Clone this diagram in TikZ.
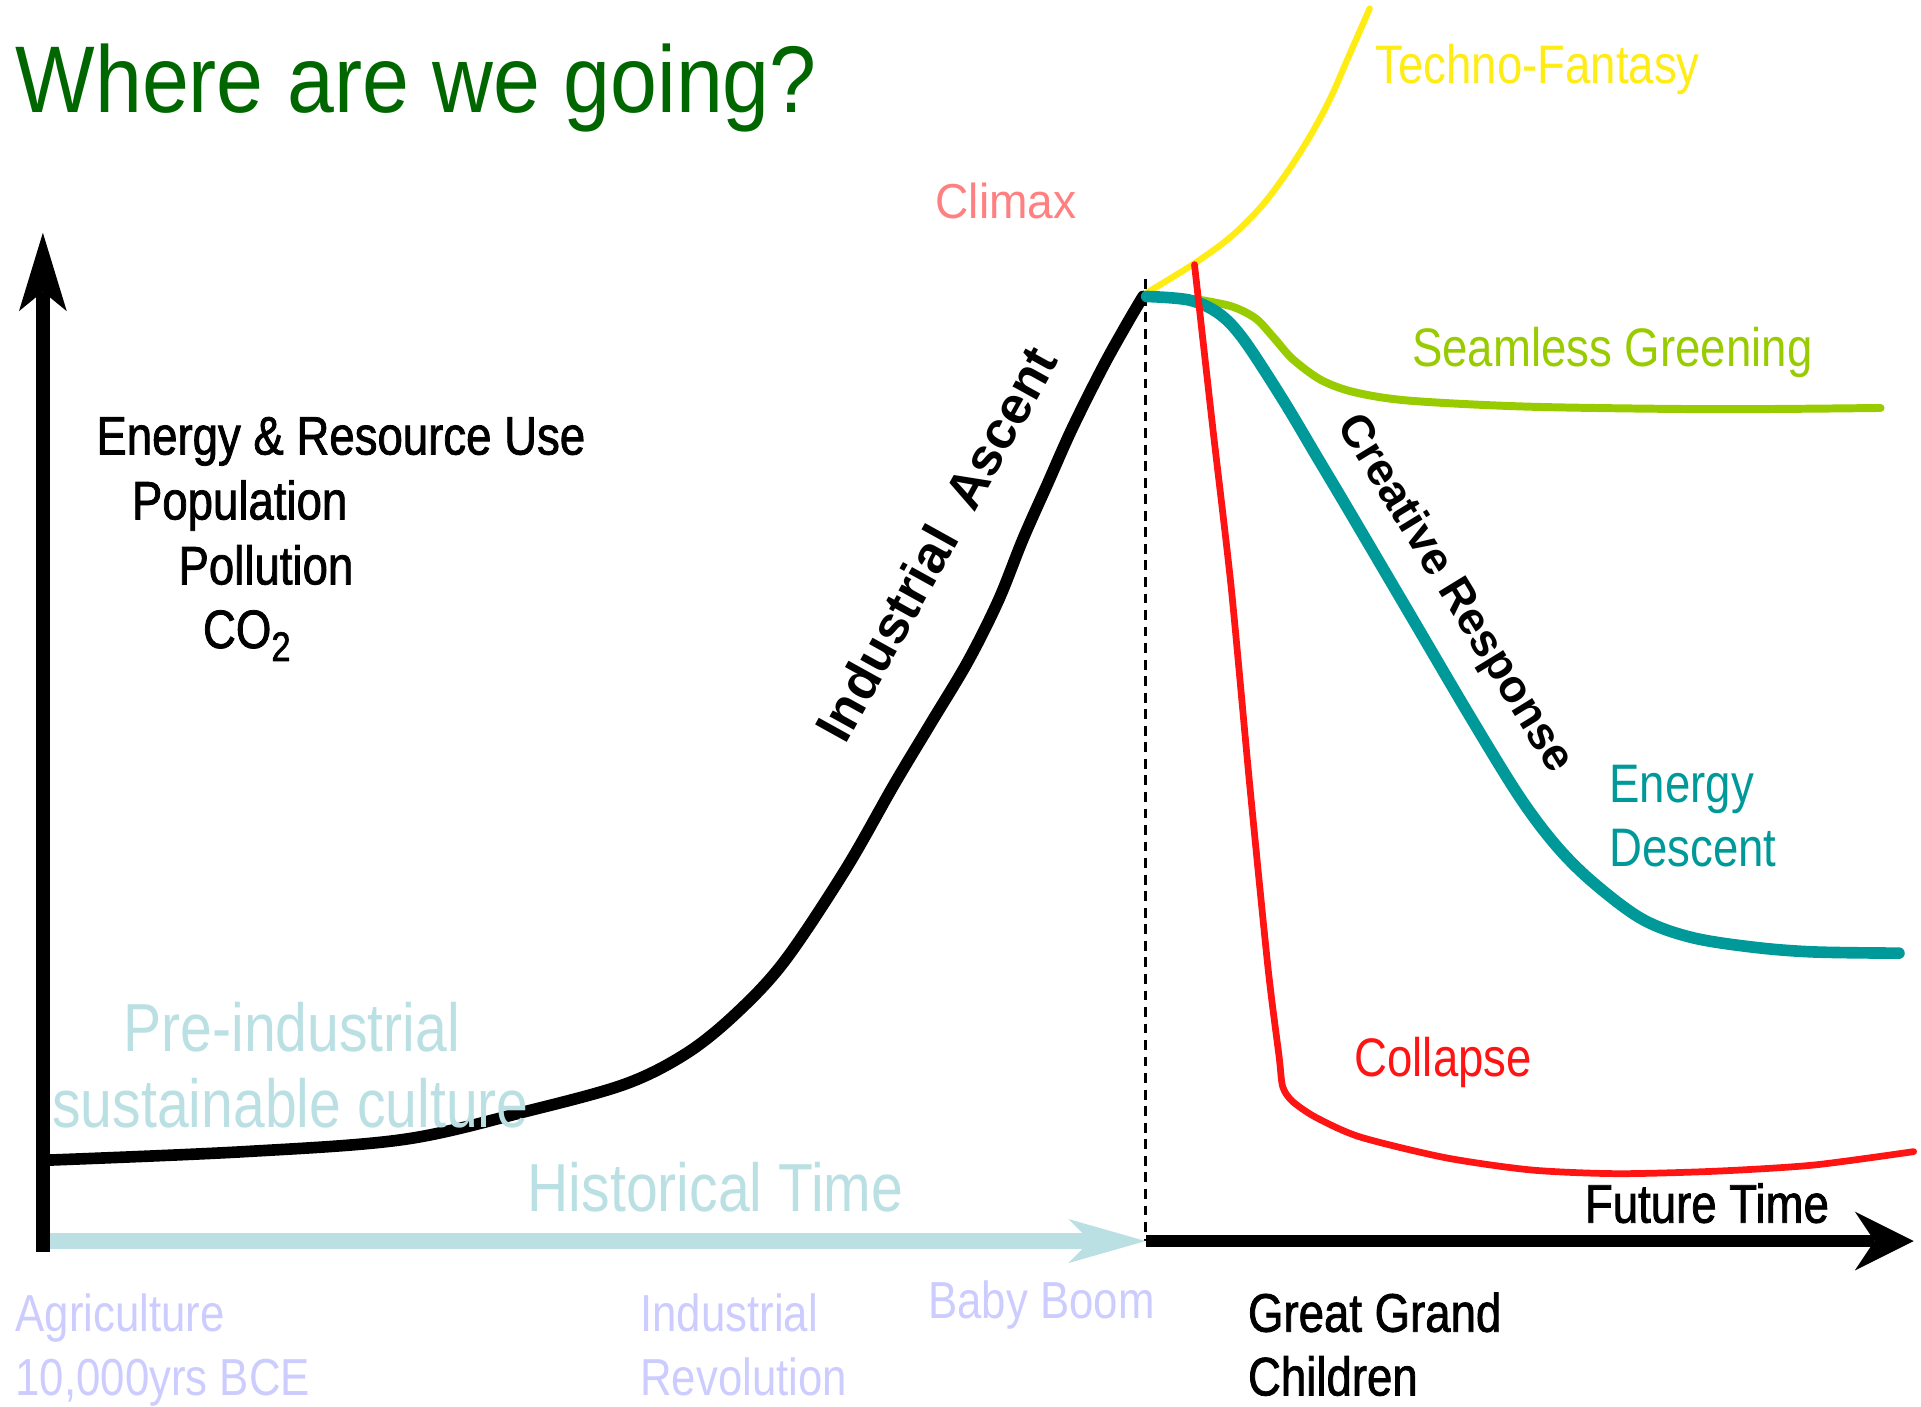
\documentclass[tikz,border=0pt]{standalone}
\usepackage{fontspec}
\setmainfont{Liberation Sans}
\newfontfamily\narrowsans{Liberation Sans}[FakeStretch=0.84]
\newfontfamily\narrowdark{Liberation Sans}[FakeStretch=0.84, FakeBold=1.4]
\newfontfamily\titlesans{Liberation Sans}[FakeStretch=0.89]
\newfontfamily\climaxsans{Liberation Sans}[FakeStretch=0.94]
\usetikzlibrary{arrows.meta}

\definecolor{titlegreen}{RGB}{0,102,0}
\definecolor{histblue}{RGB}{187,224,227}
\definecolor{eralavender}{RGB}{204,204,255}
\definecolor{climaxpink}{RGB}{255,128,128}
\definecolor{fantasyyellow}{RGB}{255,236,20}
\definecolor{greeninggreen}{RGB}{153,204,0}
\definecolor{descentteal}{RGB}{0,153,153}
\definecolor{collapsered}{RGB}{255,20,20}

\begin{document}
\begin{tikzpicture}[x=0.1mm,y=-0.1mm,
  lbl/.style={inner sep=0pt, anchor=base west,
    font=\narrowsans\fontsize{12.6pt}{15pt}\selectfont},
  darklbl/.style={lbl, font=\narrowdark\fontsize{12.6pt}{15pt}\selectfont},
  bigpale/.style={lbl, text=histblue,
    font=\narrowsans\fontsize{15.8pt}{18pt}\selectfont},
  era/.style={lbl, text=eralavender,
    font=\narrowsans\fontsize{12.1pt}{14pt}\selectfont},
  slanted/.style={inner sep=0pt, anchor=center,
    font=\bfseries\fontsize{12.2pt}{14pt}\selectfont},
  trend/.style={line cap=round, line join=round},
]
\useasboundingbox (0,0) rectangle (1568,1148);

% key points of the chart
\coordinate (origin) at (35,1022);
\coordinate (ytop) at (35,190);
\coordinate (histstart) at (40,1013);
\coordinate (now) at (935,1013);
\coordinate (xend) at (1562,1013);
\coordinate (nowtop) at (935,228);

% title
\node[inner sep=0pt, anchor=base west, text=titlegreen,
  font=\titlesans\fontsize{22pt}{26pt}\selectfont] (title) at (12,92)
  {Where are we going?};

% present-day marker
\draw[line width=0.22mm, dash pattern=on 0.8mm off 0.55mm] (nowtop) -- (now);

% axes
\draw[histblue, line width=1.3mm,
  -{Stealth[length=6.3mm, width=3.6mm, inset=1.8mm, line width=0pt]}]
  (histstart) -- (now);
\draw[line width=1.0mm,
  -{Stealth[length=4.8mm, width=4.8mm, inset=1.6mm, line width=0pt]}]
  (now) -- (xend);
\draw[line width=1.2mm,
  -{Stealth[length=6.4mm, width=3.9mm, inset=1.6mm, line width=0pt]}]
  (origin) -- (ytop);

% historical curve up to the peak
\draw[trend, line width=0.95mm] plot[smooth, tension=0.55] coordinates {
  (38,947) (200,940) (330,930) (430,907) (510,885) (560,860) (600,828)
  (640,785) (690,710) (730,640) (760,590) (790,540) (815,490) (835,440)
  (855,395) (875,350) (900,300) (920,264) (933,242)};

% future scenarios
\draw[trend, fantasyyellow, line width=0.52mm] plot[smooth, tension=0.55] coordinates {
  (936,239) (975,215) (1005,193) (1030,168) (1051,140) (1070,110)
  (1086,80) (1100,48) (1118,7)};
\draw[trend, greeninggreen, line width=0.65mm] plot[smooth, tension=0.5] coordinates {
  (975,244) (1005,250) (1025,260) (1040,276) (1055,293) (1078,310)
  (1105,320) (1150,327) (1250,332) (1400,334) (1535,333)};
\draw[trend, descentteal, line width=0.95mm] plot[smooth, tension=0.55] coordinates {
  (936,242) (971,245) (995,256) (1015,277) (1047,326) (1075,373)
  (1100,415) (1150,500) (1200,585) (1240,650) (1270,690) (1300,720)
  (1340,750) (1380,765) (1430,773) (1480,777) (1550,778)};
\draw[trend, collapsered, line width=0.55mm] plot[smooth, tension=0.45] coordinates {
  (975,216) (990,350) (1005,480) (1020,640) (1035,790) (1044,862)
  (1047,887) (1055,899) (1074,912) (1110,928) (1180,945) (1250,955)
  (1320,958) (1400,956) (1480,951) (1562,940)};

% scenario labels
\node[lbl, text=fantasyyellow] (fantasy) at (1122,68) {Techno-Fantasy};
\node[inner sep=0pt, anchor=base west, text=climaxpink,
  font=\climaxsans\fontsize{11.4pt}{14pt}\selectfont] (climax) at (763,178) {Climax};
\node[lbl, text=greeninggreen] (greening) at (1152,299) {Seamless Greening};
\node[lbl, text=descentteal] (energy) at (1313,655) {Energy};
\node[lbl, text=descentteal] (descent) at (1313,707) {Descent};
\node[lbl, text=collapsered] (collapse) at (1105,879) {Collapse};
\node[slanted, rotate=61] (ascent) at (764,444) {Industrial\ \ Ascent};
\node[slanted, rotate=-58.5, font=\bfseries\fontsize{10.6pt}{13pt}\selectfont]
  (creative) at (1187,485) {Creative Response};

% vertical axis quantities
\node[darklbl] (energyuse) at (78,371) {Energy \& Resource Use};
\node[darklbl] (population) at (107,424) {Population};
\node[darklbl] (pollution) at (145,477) {Pollution};
\node[darklbl] (carbon) at (165,529)
  {CO\raisebox{-0.45ex}{\fontsize{9.6pt}{10pt}\selectfont 2}};

% eras along the time axis
\node[bigpale] (pre) at (100,858) {Pre-industrial};
\node[bigpale] (sustain) at (42,920) {sustainable culture};
\node[bigpale] (historical) at (430,989) {Historical Time};
\node[darklbl] (future) at (1293,998) {Future Time};
\node[era] (agri) at (12,1087) {Agriculture};
\node[era] (bce) at (12,1139) {10,000yrs BCE};
\node[era] (indus) at (522,1087) {Industrial};
\node[era] (revol) at (522,1139) {Revolution};
\node[era] (baby) at (757,1076) {Baby Boom};
\node[darklbl] (great) at (1018,1087) {Great Grand};
\node[darklbl] (children) at (1018,1139) {Children};
\end{tikzpicture}
\end{document}
